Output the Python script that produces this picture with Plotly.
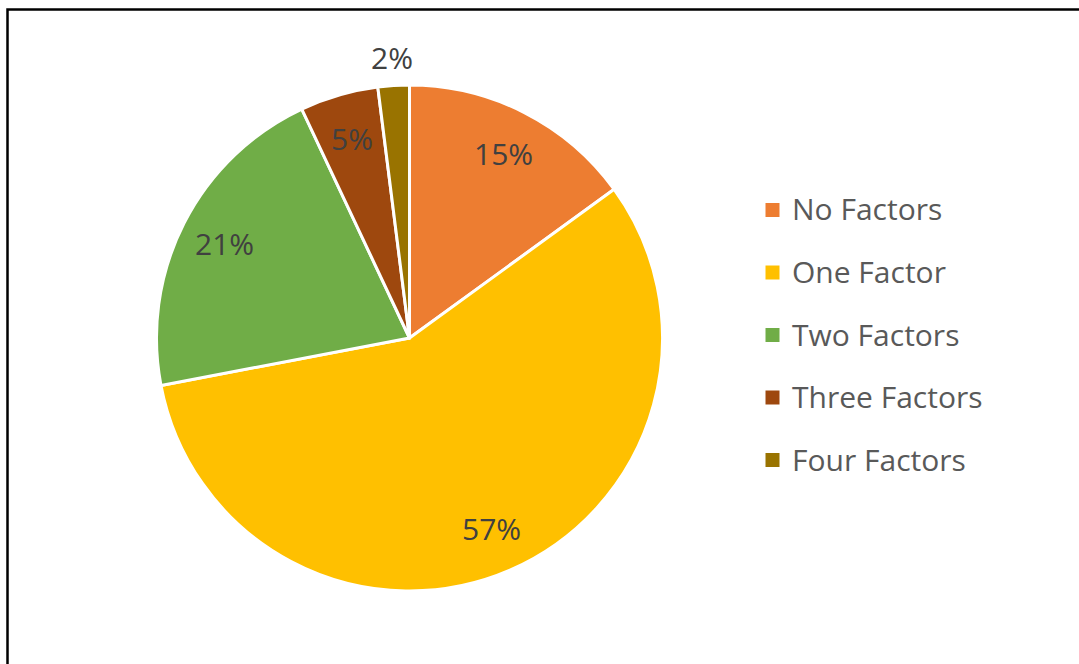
import math
import plotly.graph_objects as go

# Share of cases by number of factors present
categories = ["No Factors", "One Factor", "Two Factors", "Three Factors", "Four Factors"]
shares = [15, 57, 21, 5, 2]
colors = ["#ED7D31", "#FFC000", "#70AD47", "#9E480E", "#997300"]

W, H = 1079, 664
FONT = "Open Sans"

# Pie placement in pixels (figure has no margins, so paper == pixels)
cx, cy, r = 409.5, 338.0, 253.0
dom_x = [(cx - r) / W, (cx + r) / W]
dom_y = [1 - (cy + r) / H, 1 - (cy - r) / H]

fig = go.Figure(
    go.Pie(
        labels=categories,
        values=shares,
        sort=False,
        direction="clockwise",
        rotation=0,
        marker=dict(colors=colors, line=dict(color="white", width=3)),
        textinfo="none",
        hoverinfo="label+percent",
        showlegend=False,
        domain=dict(x=dom_x, y=dom_y),
    )
)

# Percentage labels placed along each slice's mid-angle
annotations = []
total = sum(shares)
cum = 0.0
for i, v in enumerate(shares):
    mid = (cum + v / 2) / total * 2 * math.pi
    cum += v
    k = 0.82 if v >= 4 else 1.11
    px = cx + k * r * math.sin(mid)
    py = cy - k * r * math.cos(mid)
    annotations.append(
        dict(
            x=px / W, y=1 - py / H, xref="paper", yref="paper",
            text=f"{v}%", showarrow=False,
            font=dict(family=FONT, size=30, color="#404040"),
            xanchor="center", yanchor="middle",
        )
    )

# Legend: colored squares with category names
shapes = []
leg_x, leg_y0, leg_step, sq = 772.5, 210.0, 62.5, 14
for i, (name, col) in enumerate(zip(categories, colors)):
    yy = leg_y0 + i * leg_step
    shapes.append(
        dict(
            type="rect", xref="paper", yref="paper",
            x0=(leg_x - sq / 2) / W, x1=(leg_x + sq / 2) / W,
            y0=1 - (yy + sq / 2) / H, y1=1 - (yy - sq / 2) / H,
            fillcolor=col, line=dict(width=0),
        )
    )
    annotations.append(
        dict(
            x=790 / W, y=1 - (yy - 1) / H, xref="paper", yref="paper",
            text=name, showarrow=False,
            font=dict(family=FONT, size=30, color="#595959"),
            xanchor="left", yanchor="middle",
        )
    )

# Chart frame (top and left edges visible)
shapes.append(
    dict(
        type="rect", xref="paper", yref="paper",
        x0=7.5 / W, x1=1.02, y0=-0.02, y1=1 - 9.5 / H,
        line=dict(color="black", width=2.5), fillcolor="rgba(0,0,0,0)",
    )
)

fig.update_layout(
    width=W, height=H,
    margin=dict(l=0, r=0, t=0, b=0),
    paper_bgcolor="white",
    plot_bgcolor="white",
    annotations=annotations,
    shapes=shapes,
    font=dict(family=FONT),
)

fig.write_html("out.html")
